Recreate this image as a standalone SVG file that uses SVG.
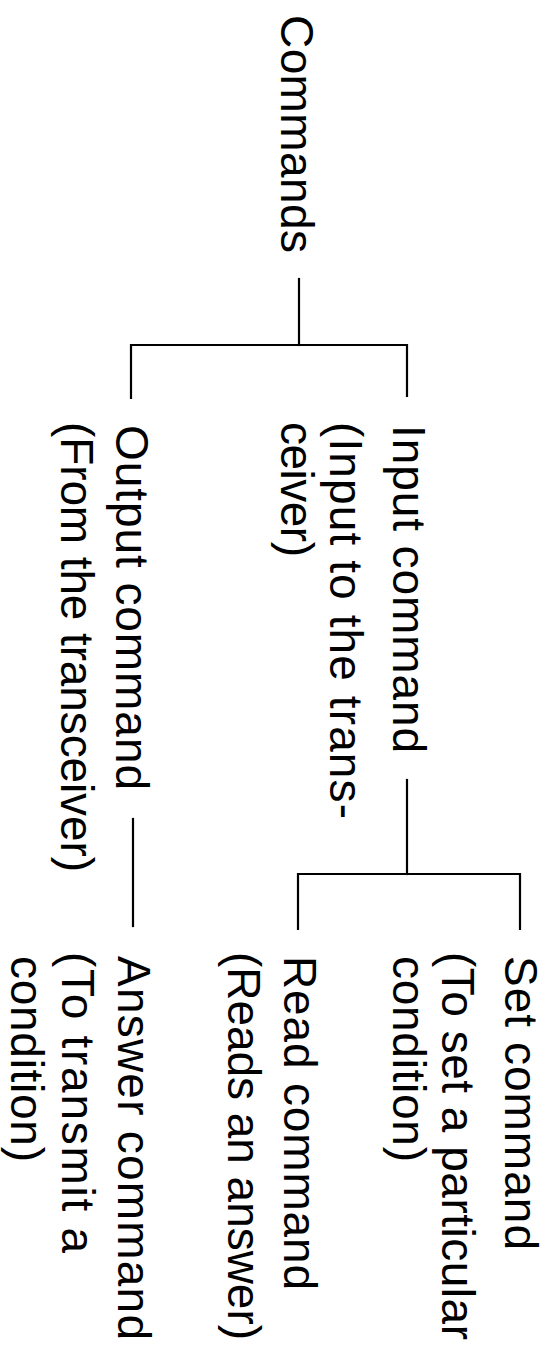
<svg xmlns="http://www.w3.org/2000/svg" width="548" height="1347" viewBox="0 0 548 1347">
<style>
  .t { font-family: "Liberation Sans", Arial, Helvetica, sans-serif; font-size: 46px; fill: #000; }
  .c { stroke: #000; stroke-width: 2.2; fill: none; stroke-linecap: square; }
</style>
<rect width="548" height="1347" fill="#fff"/>
<g id="connectors">
  <path class="c" d="M299 279 V345"/>
  <path class="c" d="M131 398 V345 H407 V396"/>
  <path class="c" d="M407 780 V874"/>
  <path class="c" d="M298 929 V874 H520 V929"/>
  <path class="c" d="M133 819 V926"/>
</g>
<g id="node-commands">
  <text class="t" transform="translate(281,15) rotate(90)" textLength="238">Commands</text>
</g>
<g id="node-input">
  <text class="t" transform="translate(393,425) rotate(90)" textLength="328">Input command</text>
  <text class="t" transform="translate(330,422) rotate(90)" textLength="397">(Input to the trans-</text>
  <text class="t" transform="translate(281,422) rotate(90)" textLength="135">ceiver)</text>
</g>
<g id="node-output">
  <text class="t" transform="translate(116,425) rotate(90)" textLength="365">Output command</text>
  <text class="t" transform="translate(61,422) rotate(90)" textLength="450">(From the transceiver)</text>
</g>
<g id="node-set">
  <text class="t" transform="translate(505,956) rotate(90)" textLength="294">Set command</text>
  <text class="t" transform="translate(442,952) rotate(90)" textLength="388">(To set a particular</text>
  <text class="t" transform="translate(393,956) rotate(90)" textLength="206">condition)</text>
</g>
<g id="node-read">
  <text class="t" transform="translate(284,956) rotate(90)" textLength="334">Read command</text>
  <text class="t" transform="translate(228,952) rotate(90)" textLength="388">(Reads an answer)</text>
</g>
<g id="node-answer">
  <text class="t" transform="translate(118,956) rotate(90)" textLength="384">Answer command</text>
  <text class="t" transform="translate(62,952) rotate(90)" textLength="301">(To transmit a</text>
  <text class="t" transform="translate(11,956) rotate(90)" textLength="206">condition)</text>
</g>
</svg>
